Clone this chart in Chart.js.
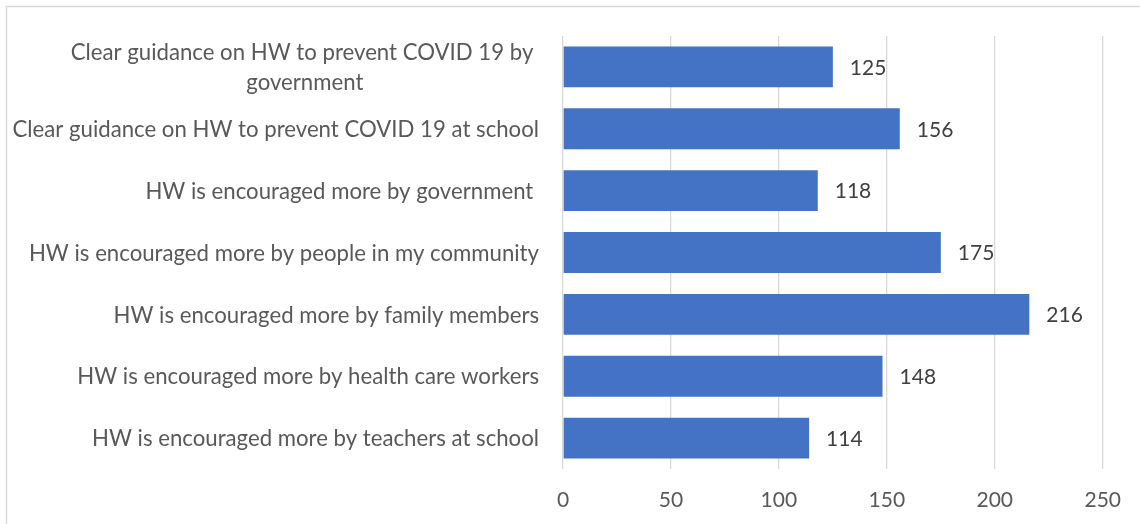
<!DOCTYPE html>
<html>
<head>
<meta charset="utf-8">
<script src="https://cdn.jsdelivr.net/npm/chart.js@4.4.1/dist/chart.umd.min.js"></script>
<style>
  html, body { margin: 0; padding: 0; background: #ffffff; }
  #wrap { position: relative; width: 1140px; height: 524px; }
</style>
</head>
<body>
<div id="wrap"><canvas id="c"></canvas></div>
<script>
const categories = [
  ["Clear guidance on HW to prevent COVID 19 by ", "government"],
  "Clear guidance on HW to prevent COVID 19 at school",
  "HW is encouraged more by government ",
  "HW is encouraged more by people in my community",
  "HW is encouraged more by family members",
  "HW is encouraged more by health care workers",
  "HW is encouraged more by teachers at school"
];
const values = [125, 156, 118, 175, 216, 148, 114];
const tickValues = [0, 50, 100, 150, 200, 250];

const FONT = "Lato";
const FS = 21;
const CAT_FS = 22.2;

const borderPlugin = {
  id: 'outerBorder',
  beforeDraw(chart) {
    const ctx = chart.ctx;
    ctx.save();
    ctx.fillStyle = '#ffffff';
    ctx.fillRect(0, 0, chart.width, chart.height);
    ctx.strokeStyle = '#d9d9d9';
    ctx.lineWidth = 1.5;
    ctx.beginPath();
    ctx.moveTo(6.5, chart.height + 5);
    ctx.lineTo(6.5, 6.5);
    ctx.lineTo(chart.width + 5, 6.5);
    ctx.stroke();
    ctx.restore();
  }
};

const catLabelPlugin = {
  id: 'catLabels',
  afterDraw(chart) {
    const ctx = chart.ctx;
    const y = chart.scales.y;
    const right = chart.chartArea.left - 24;
    ctx.save();
    ctx.font = CAT_FS + "px " + FONT;
    ctx.fillStyle = '#595959';
    ctx.textBaseline = 'middle';
    ctx.textAlign = 'center';
    const lh = 30;
    categories.forEach((lab, i) => {
      const lines = Array.isArray(lab) ? lab : [lab];
      const maxW = Math.max(...lines.map(l => ctx.measureText(l).width));
      const cx = right - maxW / 2;
      const cy = y.getPixelForValue(i) + 1;
      const start = cy - (lines.length - 1) * lh / 2;
      lines.forEach((l, j) => ctx.fillText(l, cx, start + j * lh));
    });
    ctx.restore();
  }
};

const valueLabelPlugin = {
  id: 'valueLabels',
  afterDatasetsDraw(chart) {
    const ctx = chart.ctx;
    const meta = chart.getDatasetMeta(0);
    ctx.save();
    ctx.font = FS + "px " + FONT;
    ctx.fillStyle = '#404040';
    ctx.textBaseline = 'middle';
    ctx.textAlign = 'left';
    meta.data.forEach((bar, i) => {
      ctx.fillText(String(values[i]), bar.x + 17, bar.y + 1);
    });
    ctx.restore();
  }
};

new Chart(document.getElementById('c'), {
  type: 'bar',
  data: {
    labels: categories.map(c => Array.isArray(c) ? c.join('') : c),
    datasets: [{
      data: values,
      backgroundColor: '#4472c4',
      borderWidth: 0,
      categoryPercentage: 0.66,
      barPercentage: 1.0
    }]
  },
  options: {
    indexAxis: 'y',
    responsive: true,
    maintainAspectRatio: false,
    animation: false,
    events: [],
    layout: { padding: { left: 0, right: 35, top: 36, bottom: 0 } },
    plugins: { legend: { display: false }, title: { display: false }, tooltip: { enabled: false } },
    scales: {
      y: {
        position: 'left',
        grid: { display: false, drawTicks: false },
        border: { display: false },
        ticks: { display: false },
        afterFit(s) { s.width = 563; }
      },
      x: {
        position: 'bottom',
        min: 0,
        max: 250,
        afterBuildTicks(s) { s.ticks = tickValues.map(v => ({ value: v })); },
        grid: { color: '#d9d9d9', lineWidth: 1.3, drawTicks: false },
        border: { display: false },
        ticks: {
          color: '#595959',
          font: { family: FONT, size: FS },
          padding: 19,
          maxRotation: 0
        },
        afterFit(s) { s.height = 55; }
      }
    }
  },
  plugins: [borderPlugin, catLabelPlugin, valueLabelPlugin]
});
</script>
</body>
</html>
